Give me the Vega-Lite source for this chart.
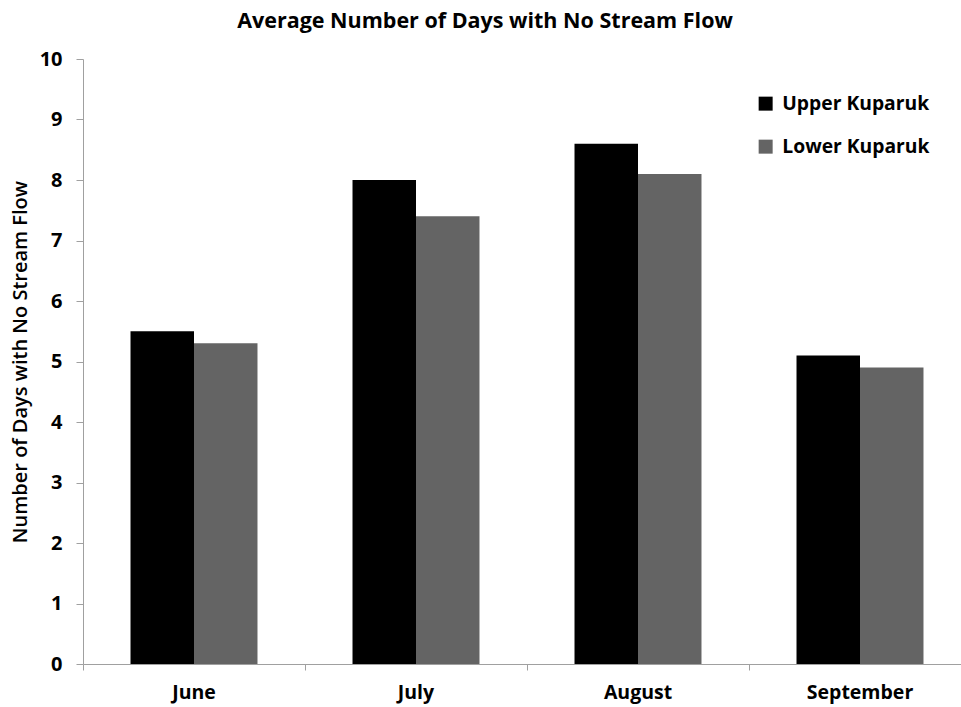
{
  "$schema": "https://vega.github.io/schema/vega-lite/v6.json",
  "width": 888,
  "height": 605,
  "autosize": {"type": "none"},
  "padding": {"left": 83, "top": 59, "right": 0, "bottom": 43},
  "background": "white",
  "title": {
    "text": "Average Number of Days with No Stream Flow",
    "font": "Open Sans",
    "fontSize": 21.5,
    "fontWeight": "bold",
    "color": "#000000",
    "anchor": "middle",
    "frame": "group",
    "offset": 17,
    "dx": -42
  },
  "data": {
    "values": [
      {"month": "June", "site": "Upper Kuparuk", "days": 5.5},
      {"month": "June", "site": "Lower Kuparuk", "days": 5.3},
      {"month": "July", "site": "Upper Kuparuk", "days": 8.0},
      {"month": "July", "site": "Lower Kuparuk", "days": 7.4},
      {"month": "August", "site": "Upper Kuparuk", "days": 8.6},
      {"month": "August", "site": "Lower Kuparuk", "days": 8.1},
      {"month": "September", "site": "Upper Kuparuk", "days": 5.1},
      {"month": "September", "site": "Lower Kuparuk", "days": 4.9}
    ]
  },
  "mark": {"type": "bar"},
  "encoding": {
    "x": {
      "field": "month",
      "type": "nominal",
      "sort": ["June", "July", "August", "September"],
      "scale": {"paddingInner": 0.428, "paddingOuter": 0.214},
      "axis": {
        "title": null,
        "labelAngle": 0,
        "labelFont": "Open Sans",
        "labelFontSize": 19.5,
        "labelFontWeight": "bold",
        "labelColor": "#000000",
        "labelPadding": 13,
        "bandPosition": -0.374,
        "tickSize": 6,
        "tickColor": "#a0a0a0",
        "domainColor": "#a0a0a0",
        "grid": false
      }
    },
    "xOffset": {
      "field": "site",
      "type": "nominal",
      "sort": ["Upper Kuparuk", "Lower Kuparuk"]
    },
    "y": {
      "field": "days",
      "type": "quantitative",
      "scale": {"domain": [0, 10], "nice": false},
      "axis": {
        "title": "Number of Days with No Stream Flow",
        "titleFont": "Open Sans",
        "titleFontSize": 20,
        "titleFontWeight": 600,
        "titleColor": "#000000",
        "titlePadding": 9,
        "values": [0, 1, 2, 3, 4, 5, 6, 7, 8, 9, 10],
        "labelFont": "Open Sans",
        "labelFontSize": 20,
        "labelFontWeight": "bold",
        "labelColor": "#000000",
        "labelPadding": 14,
        "tickSize": 7,
        "tickColor": "#a0a0a0",
        "domainColor": "#a0a0a0",
        "grid": false
      }
    },
    "color": {
      "field": "site",
      "type": "nominal",
      "sort": ["Upper Kuparuk", "Lower Kuparuk"],
      "scale": {"domain": ["Upper Kuparuk", "Lower Kuparuk"], "range": ["#000000", "#646464"]},
      "legend": {
        "title": null,
        "orient": "none",
        "legendX": 673,
        "legendY": 35,
        "symbolType": "square",
        "symbolSize": 196,
        "symbolStrokeWidth": 0,
        "symbolOpacity": 1,
        "labelFont": "Open Sans",
        "labelFontSize": 19.3,
        "labelFontWeight": "bold",
        "labelColor": "#000000",
        "labelOffset": 7,
        "rowPadding": 23
      }
    }
  },
  "config": {
    "view": {"stroke": null}
  }
}
